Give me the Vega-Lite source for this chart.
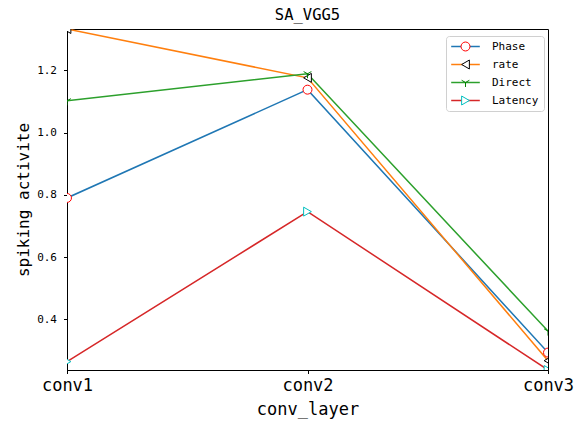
{
  "$schema": "https://vega.github.io/schema/vega-lite/v6.json",
  "autosize": {"type": "none"},
  "padding": {"left": 67, "top": 29, "right": 39, "bottom": 54},
  "width": 481,
  "height": 341,
  "title": {"text": "SA_VGG5", "font": "DejaVu Sans Mono", "fontSize": 15.5, "fontWeight": "normal", "color": "black", "offset": 6},
  "data": {"values": [
    {"layer": "conv1", "series": "Phase", "value": 0.79},
    {"layer": "conv2", "series": "Phase", "value": 1.138},
    {"layer": "conv3", "series": "Phase", "value": 0.293},
    {"layer": "conv1", "series": "rate", "value": 1.333},
    {"layer": "conv2", "series": "rate", "value": 1.176},
    {"layer": "conv3", "series": "rate", "value": 0.267},
    {"layer": "conv1", "series": "Direct", "value": 1.102},
    {"layer": "conv2", "series": "Direct", "value": 1.189},
    {"layer": "conv3", "series": "Direct", "value": 0.362},
    {"layer": "conv1", "series": "Latency", "value": 0.264},
    {"layer": "conv2", "series": "Latency", "value": 0.746},
    {"layer": "conv3", "series": "Latency", "value": 0.237}
  ]},
  "encoding": {
    "x": {"field": "layer", "type": "ordinal", "scale": {"type": "point", "padding": 0, "domain": ["conv1", "conv2", "conv3"]},
      "axis": {"title": "conv_layer", "labelAngle": 0, "labelFontSize": 17, "titleFontSize": 17, "labelPadding": 4, "titlePadding": 8}},
    "y": {"field": "value", "type": "quantitative", "scale": {"domain": [0.237, 1.333], "nice": false, "zero": false},
      "axis": {"title": "spiking activite", "values": [0.4, 0.6, 0.8, 1.0, 1.2], "format": ".1f", "labelFontSize": 11, "titleFontSize": 16, "labelPadding": 7, "titlePadding": 5}}
  },
  "layer": [
    {
      "mark": {"type": "line", "strokeWidth": 1.5, "clip": true},
      "encoding": {
        "color": {"field": "series", "type": "nominal",
          "scale": {"domain": ["Phase", "rate", "Direct", "Latency"], "range": ["#1f77b4", "#ff7f0e", "#2ca02c", "#d62728"]},
          "legend": {"orient": "none", "legendX": 379, "legendY": 7, "title": null,
            "symbolType": "M-3.2,0L3.2,0", "symbolSize": 80, "symbolStrokeWidth": 1.5,
            "labelFont": "DejaVu Sans Mono", "labelFontSize": 11, "labelColor": "black",
            "labelOffset": 21, "symbolOffset": 9, "rowPadding": 6, "padding": 5,
            "strokeColor": "#d0d0d0", "cornerRadius": 3}}
      }
    },
    {
      "mark": {"type": "point", "filled": true, "fill": "white", "size": 80, "strokeWidth": 1, "opacity": 1, "clip": true},
      "encoding": {
        "shape": {"field": "series", "type": "nominal",
          "scale": {"domain": ["Phase", "rate", "Direct", "Latency"], "range": ["circle", "triangle-left", "M0,0L0,1M0,0L-0.866,-0.5M0,0L0.866,-0.5", "triangle-right"]},
          "legend": {"orient": "none", "legendX": 379, "legendY": 7, "title": null,
            "symbolSize": 80, "symbolStrokeWidth": 1, "symbolFillColor": "white",
            "labelExpr": "''", "labelFontSize": 11,
            "labelOffset": 21, "symbolOffset": 9, "rowPadding": 5, "padding": 5}},
        "stroke": {"field": "series", "type": "nominal",
          "scale": {"domain": ["Phase", "rate", "Direct", "Latency"], "range": ["#ff0000", "#000000", "#008000", "#00bfbf"]},
          "legend": {"orient": "none", "legendX": 379, "legendY": 7, "title": null,
            "symbolSize": 80, "symbolStrokeWidth": 1, "symbolFillColor": "white",
            "labelExpr": "''", "labelFontSize": 11,
            "labelOffset": 21, "symbolOffset": 9, "rowPadding": 5, "padding": 5}}
      }
    }
  ],
  "resolve": {"legend": {"color": "independent", "shape": "independent", "stroke": "independent"}},
  "config": {
    "font": "DejaVu Sans Mono",
    "view": {"stroke": "black", "strokeWidth": 1},
    "axis": {"grid": false, "domainColor": "black", "tickColor": "black", "tickSize": 3.5, "labelColor": "black", "titleColor": "black", "titleFontWeight": "normal", "labelFont": "DejaVu Sans Mono", "titleFont": "DejaVu Sans Mono"}
  }
}
